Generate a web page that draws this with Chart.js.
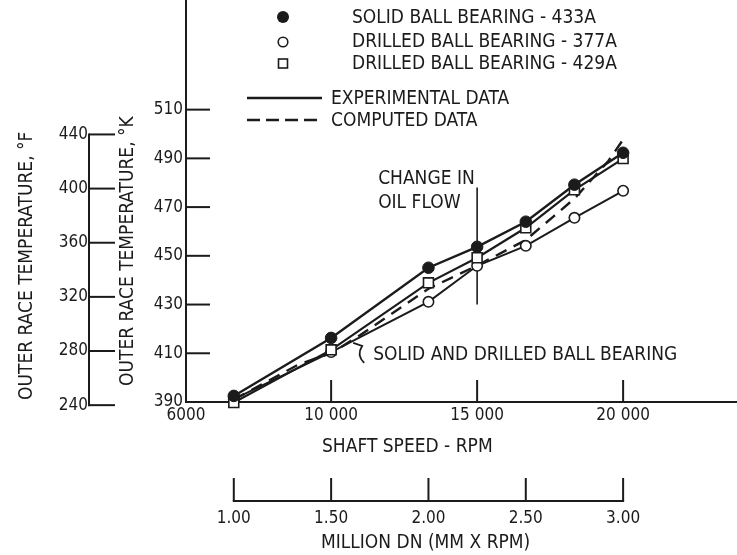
<!DOCTYPE html>
<html>
<head>
<meta charset="utf-8">
<script src="https://cdn.jsdelivr.net/npm/chart.js@4.4.1/dist/chart.umd.min.js"></script>
<style>
html,body{margin:0;padding:0;background:#fff;}
#wrap{width:737px;height:555px;position:relative;}
canvas{display:block;}
</style>
</head>
<body>
<div id="wrap"><canvas id="c" width="737" height="555" style="width:737px;height:555px"></canvas></div>
<script>
// ---------- data ----------
const shaftSpeedRpm = [6667, 10000, 13333, 15000, 16667, 18333, 20000];
const solid433A     = [392.5, 416.3, 445.1, 453.7, 464.0, 479.2, 492.3];
const drilled377A   = [391.2, 410.5, 431.1, 445.9, 454.1, 465.6, 476.7];
const drilled429A   = [389.8, 411.4, 438.9, 449.2, 461.5, 477.1, 489.9];

const computedRpm = [6667, 8900, 10000, 11000, 13333, 15000, 16667, 17600, 18333, 19500, 20100];
const computedK   = [391.0, 405.5, 410.0, 417.5, 436.5, 446.0, 456.5, 466.0, 473.5, 489.0, 499.5];

const oilFlowChangeRpm = [15000, 15000];
const oilFlowChangeK   = [430, 478];

const kelvinTicks     = [390, 410, 430, 450, 470, 490, 510];
const fahrenheitTicks = [240, 280, 320, 360, 400, 440];
const rpmTickValues   = [5030, 10000, 15000, 20000];
const rpmTickLabels   = ['6000', '10 000', '15 000', '20 000'];
const dnTickValues    = [1.00, 1.50, 2.00, 2.50, 3.00];
const dnTickLabels    = ['1.00', '1.50', '2.00', '2.50', '3.00'];

const seriesLabels = ['SOLID BALL BEARING - 433A', 'DRILLED BALL BEARING - 377A', 'DRILLED BALL BEARING - 429A'];
const lineLabels   = ['EXPERIMENTAL DATA', 'COMPUTED DATA'];
const axisTitles   = {
  f: 'OUTER RACE TEMPERATURE, °F',
  k: 'OUTER RACE TEMPERATURE, °K',
  rpm: 'SHAFT SPEED - RPM',
  dn: 'MILLION DN (MM X RPM)'
};
const noteOil    = ['CHANGE IN', 'OIL FLOW'];
const noteOilAt  = {rpm: 11610, k: [481.7, 471.8]};
const noteBoth   = 'SOLID AND DRILLED BALL BEARING';
const noteBothAt = {rpm: 11440, k: 409.3};

// ---------- ranges ----------
const RPM_MIN = 5030, RPM_MAX = 23900;
const K_MIN = 390, K_MAX = 555;
const DN_PER_RPM = 1.5e-4;
const kToF = k => k * 1.8 - 459.67;

// ---------- style ----------
const FONT = "'Liberation Sans Narrow','DejaVu Sans Condensed','Arial Narrow',sans-serif";
const INK = '#1b1b1b';
const FS = 19;
const TFS = 17;

const pts = (xs, ys) => xs.map((v, i) => ({x: v, y: ys[i]}));
const noPad = s => { s.paddingTop = 0; s.paddingBottom = 0; s.paddingLeft = 0; s.paddingRight = 0; };

const overlay = {
  id: 'overlay',
  afterDraw(chart) {
    const {ctx, scales} = chart;
    const {x, x2, y, yF} = scales;
    ctx.save();
    ctx.strokeStyle = INK;
    ctx.fillStyle = INK;
    ctx.lineWidth = 2;
    ctx.lineCap = 'butt';
    const seg = (a, b, c, d) => { ctx.beginPath(); ctx.moveTo(a, b); ctx.lineTo(c, d); ctx.stroke(); };

    // K axis inward tick marks
    kelvinTicks.forEach(v => { const p = y.getPixelForValue(v); seg(y.right, p, y.right + 24, p); });
    // F axis line and tick marks
    const fTop = yF.getPixelForValue(fahrenheitTicks[fahrenheitTicks.length - 1]);
    const fBot = yF.getPixelForValue(fahrenheitTicks[0]);
    seg(yF.right, fTop - 1, yF.right, fBot + 1);
    fahrenheitTicks.forEach(v => { const p = yF.getPixelForValue(v); seg(yF.right, p, yF.right + 26, p); });
    // rpm axis tick marks (upward)
    rpmTickValues.slice(1).forEach(v => { const p = x.getPixelForValue(v); seg(p, x.top, p, x.top - 22); });
    // DN axis line and tick marks
    const d0 = x2.getPixelForValue(dnTickValues[0]);
    const d1 = x2.getPixelForValue(dnTickValues[dnTickValues.length - 1]);
    seg(d0 - 1, x2.top, d1 + 1, x2.top);
    dnTickValues.forEach(v => { const p = x2.getPixelForValue(v); seg(p, x2.top, p, x2.top - 23); });

    // axis titles
    ctx.font = FS + 'px ' + FONT;
    ctx.textBaseline = 'middle';
    ctx.textAlign = 'left';
    ctx.save(); ctx.translate(27, 400); ctx.rotate(-Math.PI / 2); ctx.fillText(axisTitles.f, 0, 0); ctx.restore();
    ctx.save(); ctx.translate(128, 386); ctx.rotate(-Math.PI / 2); ctx.fillText(axisTitles.k, 0, 0); ctx.restore();
    ctx.fillText(axisTitles.rpm, 322, 447);
    ctx.fillText(axisTitles.dn, 321, 543);

    // annotations
    const ax = x.getPixelForValue(noteOilAt.rpm);
    ctx.fillText(noteOil[0], ax, y.getPixelForValue(noteOilAt.k[0]));
    ctx.fillText(noteOil[1], ax, y.getPixelForValue(noteOilAt.k[1]));
    const bx = x.getPixelForValue(noteBothAt.rpm), by = y.getPixelForValue(noteBothAt.k);
    ctx.fillText(noteBoth, bx, by);
    ctx.lineWidth = 1.8;
    ctx.beginPath();
    ctx.moveTo(bx - 20, by - 12);
    ctx.lineTo(bx - 11, by - 9);
    ctx.quadraticCurveTo(bx - 17, by, bx - 9, by + 8);
    ctx.stroke();

    // legend
    ctx.font = FS + 'px ' + FONT;
    const mx = 283, tx = 352;
    ctx.beginPath(); ctx.arc(mx, 17, 6, 0, Math.PI * 2); ctx.fill();
    ctx.fillText(seriesLabels[0], tx, 18);
    ctx.lineWidth = 1.6;
    ctx.beginPath(); ctx.arc(mx, 42, 4.8, 0, Math.PI * 2); ctx.stroke();
    ctx.fillText(seriesLabels[1], tx, 42);
    ctx.strokeRect(mx - 4.5, 59, 9, 9);
    ctx.fillText(seriesLabels[2], tx, 64);
    ctx.lineWidth = 2.6;
    seg(247, 98, 322, 98);
    ctx.fillText(lineLabels[0], 331, 99);
    ctx.setLineDash([13, 6]);
    seg(247, 120, 320, 120);
    ctx.setLineDash([]);
    ctx.fillText(lineLabels[1], 331, 121);
    ctx.restore();
  }
};

const tickFont = {family: FONT, size: TFS};

new Chart(document.getElementById('c'), {
  type: 'scatter',
  data: {
    datasets: [
      {label: seriesLabels[0], data: pts(shaftSpeedRpm, solid433A), showLine: true,
       borderColor: INK, borderWidth: 2.4, pointStyle: 'circle', pointRadius: 5.8,
       pointBackgroundColor: INK, pointBorderColor: INK, pointBorderWidth: 1, clip: false},
      {label: seriesLabels[2], data: pts(shaftSpeedRpm, drilled429A), showLine: true,
       borderColor: INK, borderWidth: 2.2, pointStyle: 'rect', pointRadius: 7,
       pointBackgroundColor: '#fff', pointBorderColor: INK, pointBorderWidth: 1.6, clip: false},
      {label: seriesLabels[1], data: pts(shaftSpeedRpm, drilled377A), showLine: true,
       borderColor: INK, borderWidth: 2.0, pointStyle: 'circle', pointRadius: 5.2,
       pointBackgroundColor: '#fff', pointBorderColor: INK, pointBorderWidth: 1.6, clip: false},
      {label: lineLabels[1], data: pts(computedRpm, computedK), showLine: true,
       borderColor: INK, borderWidth: 2.4, borderDash: [12, 8], pointRadius: 0, clip: false},
      {label: 'oil flow change', data: pts(oilFlowChangeRpm, oilFlowChangeK), showLine: true,
       borderColor: INK, borderWidth: 1.6, pointRadius: 0, clip: false}
    ]
  },
  options: {
    responsive: false,
    maintainAspectRatio: false,
    animation: false,
    devicePixelRatio: 1,
    layout: {padding: 0, autoPadding: false},
    plugins: {legend: {display: false}, tooltip: {enabled: false}},
    elements: {line: {tension: 0}},
    scales: {
      x: {
        type: 'linear', position: 'bottom', weight: 0, min: RPM_MIN, max: RPM_MAX,
        grid: {display: false, drawTicks: false},
        border: {display: true, width: 2, color: INK},
        ticks: {font: tickFont, color: INK, padding: 3, autoSkip: false, maxRotation: 0,
                callback: (v) => { const i = rpmTickValues.indexOf(v); return i >= 0 ? rpmTickLabels[i] : ''; }},
        afterBuildTicks: s => { s.ticks = rpmTickValues.map(v => ({value: v})); },
        afterFit: s => { s.height = 99; noPad(s); }
      },
      x2: {
        type: 'linear', position: 'bottom', weight: 1,
        min: RPM_MIN * DN_PER_RPM, max: RPM_MAX * DN_PER_RPM,
        grid: {display: false, drawTicks: false},
        border: {display: false},
        ticks: {font: tickFont, color: INK, padding: 7, autoSkip: false, maxRotation: 0,
                callback: (v) => { const i = dnTickValues.findIndex(d => Math.abs(d - v) < 1e-6); return i >= 0 ? dnTickLabels[i] : ''; }},
        afterBuildTicks: s => { s.ticks = dnTickValues.map(v => ({value: v})); },
        afterFit: s => { s.height = 54; noPad(s); }
      },
      y: {
        type: 'linear', position: 'left', weight: 0, min: K_MIN, max: K_MAX,
        grid: {display: false, drawTicks: false},
        border: {display: true, width: 2, color: INK},
        ticks: {font: tickFont, color: INK, padding: 3, autoSkip: false,
                callback: (v) => String(v)},
        afterBuildTicks: s => { s.ticks = kelvinTicks.map(v => ({value: v})); },
        afterFit: s => { s.width = 97; noPad(s); }
      },
      yF: {
        type: 'linear', position: 'left', weight: 1, min: kToF(K_MIN), max: kToF(K_MAX),
        grid: {display: false, drawTicks: false},
        border: {display: false},
        ticks: {font: tickFont, color: INK, padding: 1, autoSkip: false,
                callback: (v) => String(v)},
        afterBuildTicks: s => { s.ticks = fahrenheitTicks.map(v => ({value: v})); },
        afterFit: s => { s.width = 89; noPad(s); }
      }
    }
  },
  plugins: [overlay]
});
</script>
</body>
</html>
